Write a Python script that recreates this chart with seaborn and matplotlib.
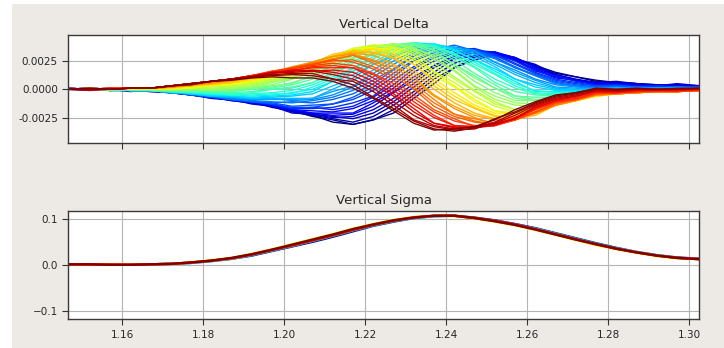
import matplotlib
matplotlib.use("Agg")
import matplotlib.pyplot as plt
import numpy as np
import pandas as pd
import seaborn as sns
from matplotlib.patches import Rectangle
from matplotlib.ticker import FuncFormatter

sns.set_style("ticks")
plt.rcParams['font.family'] = ['DejaVu Sans']

# ---------------- data ----------------
x_pos = [1.146, 1.152, 1.157, 1.162, 1.167, 1.172, 1.177, 1.182, 1.187, 1.192,
         1.197, 1.202, 1.207, 1.212, 1.217, 1.222, 1.227, 1.232, 1.237, 1.242,
         1.247, 1.252, 1.257, 1.262, 1.267, 1.272, 1.277, 1.282, 1.287, 1.292,
         1.297, 1.303]

x_ticks = [1.16, 1.18, 1.20, 1.22, 1.24, 1.26, 1.28, 1.30]
x_tick_labels = ['1.16', '1.18', '1.20', '1.22', '1.24', '1.26', '1.28', '1.30']
delta_ticks = [-0.0025, 0.0, 0.0025]
sigma_ticks = [-0.1, 0.0, 0.1]

# Vertical Delta curves (units of 1e-4), drawn in this order (blue -> dark red)
C00 = [1, 0, -1, 0, -1, -2, -3, -6, -8, -11, -15, -20, -23, -29, -31, -27, -21, -8, 5, 19, 26, 30, 26, 21, 15, 11, 8, 6, 5, 3, 4, 3]
C01 = [0, 1, -1, 0, -1, -1, -4, -6, -9, -11, -16, -19, -24, -27, -31, -27, -18, -5, 9, 19, 28, 32, 28, 20, 14, 11, 7, 6, 5, 4, 3, 3]
C02 = [0, 1, 0, -1, 0, -2, -4, -7, -9, -12, -14, -18, -23, -26, -29, -24, -14, -2, 12, 23, 28, 31, 27, 22, 13, 9, 6, 7, 5, 4, 3, 3]
C03 = [1, 0, 0, -1, -1, -2, -4, -8, -9, -13, -15, -19, -22, -24, -26, -21, -11, 2, 15, 27, 30, 31, 28, 20, 13, 8, 6, 6, 5, 3, 4, 2]
C04 = [0, 0, 1, -1, -1, -2, -5, -7, -10, -12, -15, -21, -22, -25, -24, -18, -8, 5, 19, 27, 29, 32, 27, 21, 12, 8, 6, 5, 4, 3, 5, 3]
C05 = [0, 1, 0, -2, -1, -3, -5, -7, -10, -12, -14, -19, -21, -23, -22, -15, -3, 8, 21, 29, 32, 33, 28, 19, 12, 8, 5, 6, 4, 2, 4, 2]
C06 = [1, 0, 0, -1, -2, -3, -5, -8, -9, -12, -15, -18, -21, -21, -21, -12, -2, 11, 21, 30, 34, 32, 26, 18, 11, 8, 5, 5, 4, 2, 3, 2]
C07 = [0, 0, -1, -1, -2, -3, -5, -7, -9, -10, -14, -18, -19, -20, -17, -10, 1, 15, 25, 32, 34, 33, 26, 17, 10, 8, 4, 5, 3, 3, 2, 2]
C08 = [0, -1, 0, -1, -1, -3, -4, -7, -9, -11, -14, -17, -16, -18, -15, -7, 4, 18, 28, 33, 34, 31, 25, 16, 12, 7, 4, 4, 3, 3, 2, 2]
C09 = [1, 0, -1, -1, -1, -3, -4, -7, -9, -11, -13, -17, -17, -16, -12, -6, 8, 20, 30, 35, 36, 31, 23, 15, 9, 6, 3, 4, 2, 3, 2, 1]
C10 = [0, 0, -1, -1, -1, -2, -5, -7, -7, -11, -13, -16, -16, -13, -9, -1, 11, 25, 32, 36, 35, 30, 22, 14, 8, 5, 3, 3, 2, 2, 2, 2]
C11 = [0, 0, -1, 0, -1, -2, -5, -7, -9, -11, -12, -15, -14, -13, -7, 2, 14, 26, 33, 37, 35, 29, 19, 13, 7, 4, 2, 3, 2, 1, 2, 2]
C12 = [1, 0, 0, 0, -1, -3, -5, -6, -9, -11, -12, -11, -12, -9, -4, 5, 17, 29, 35, 39, 34, 28, 20, 12, 6, 3, 2, 2, 2, 1, 2, 1]
C13 = [1, 0, 0, -1, -1, -3, -4, -6, -9, -10, -11, -12, -10, -7, -1, 8, 18, 30, 37, 37, 33, 27, 19, 12, 5, 3, 1, 2, 1, 1, 2, 1]
C14 = [0, 0, 0, -1, -1, -3, -4, -6, -8, -9, -8, -10, -9, -5, 2, 11, 22, 32, 38, 37, 33, 24, 17, 9, 4, 2, 1, 1, 1, 1, 1, 1]
C15 = [0, 1, 0, -1, -1, -3, -4, -6, -7, -9, -9, -9, -8, -2, 3, 14, 25, 34, 39, 37, 34, 24, 15, 8, 2, 1, 0, 1, 1, 1, 1, 1]
C16 = [0, 0, -1, -1, -1, -3, -4, -6, -7, -8, -8, -8, -8, 0, 8, 17, 28, 36, 37, 37, 31, 22, 13, 6, 1, 0, 0, 1, 0, 1, 1, 1]
C17 = [0, 0, -1, -1, -1, -2, -4, -6, -6, -8, -7, -6, -4, 3, 10, 22, 29, 37, 40, 36, 29, 20, 9, 4, 0, -1, 0, 1, 0, 0, 1, 0]
C18 = [0, 1, 0, -1, -1, -2, -4, -5, -6, -7, -6, -5, -2, 7, 13, 22, 31, 38, 40, 35, 26, 18, 9, 2, -1, -1, -1, 0, 0, 0, 0, 0]
C19 = [0, 0, 1, -1, -1, -2, -3, -5, -5, -6, -5, -3, 0, 7, 16, 24, 33, 41, 40, 34, 26, 16, 7, -2, -2, -2, -1, -1, 0, 0, 1, 0]
C20 = [0, 0, 0, -1, -1, -2, -3, -4, -5, -5, -4, -4, 2, 9, 18, 27, 35, 40, 39, 31, 24, 14, 5, -1, -3, -3, -2, -1, -1, 0, 0, 0]
C21 = [0, 0, 0, -1, -1, -2, -3, -3, -5, -4, -3, -1, 4, 11, 19, 29, 37, 40, 38, 32, 22, 13, 3, -3, -4, -4, -2, -2, -1, 0, 0, -1]
C22 = [0, 0, 1, -1, -1, -2, -2, -3, -4, -3, 0, 1, 6, 13, 23, 31, 36, 41, 38, 30, 20, 9, 1, -4, -5, -5, -3, -2, -2, 0, 0, 0]
C23 = [0, 0, 0, -1, -1, -2, -2, -3, -3, -2, 0, 2, 6, 15, 25, 32, 39, 41, 37, 28, 19, 6, -2, -5, -6, -6, -3, -2, -2, -1, 0, -1]
C24 = [0, 0, 0, -1, -1, -1, -2, -2, -2, 0, 1, 4, 9, 17, 27, 36, 39, 41, 35, 26, 14, 4, -6, -7, -7, -6, -4, -2, -2, -1, -1, -1]
C25 = [0, 1, 0, 0, -1, -1, -2, -1, -2, 1, 2, 6, 11, 21, 28, 36, 39, 40, 34, 22, 12, 1, -6, -9, -8, -6, -4, -3, -2, -1, -1, -1]
C26 = [0, 0, 0, 0, 0, -1, -1, -1, -1, 1, 3, 5, 13, 21, 30, 37, 40, 39, 32, 22, 10, 1, -8, -10, -9, -7, -4, -3, -3, -1, -1, -1]
C27 = [0, 0, -1, 0, 0, -1, 0, -1, 0, 2, 4, 9, 15, 23, 31, 37, 40, 36, 30, 20, 7, -3, -10, -10, -10, -7, -5, -3, -3, -2, -1, -1]
C28 = [0, 0, 0, 0, 0, 0, 0, 0, 1, 2, 6, 10, 17, 24, 35, 38, 40, 37, 28, 17, 3, -6, -12, -13, -11, -8, -5, -4, -3, -2, -2, -1]
C29 = [0, 0, 0, 1, 0, 0, 1, 0, 2, 3, 7, 11, 16, 25, 34, 38, 40, 35, 26, 16, 2, -9, -14, -15, -11, -9, -5, -4, -3, -2, -2, -1]
C30 = [0, 0, 0, 0, 0, 0, 1, 1, 2, 4, 8, 12, 18, 26, 35, 39, 37, 34, 23, 11, -1, -11, -18, -16, -12, -9, -5, -4, -3, -2, -2, -1]
C31 = [0, 0, 0, 0, 1, 0, 1, 2, 3, 5, 9, 13, 20, 29, 36, 39, 38, 32, 20, 9, -2, -13, -18, -17, -13, -9, -6, -4, -3, -2, -1, -1]
C32 = [0, 0, 0, 0, 0, 0, 1, 3, 4, 6, 10, 16, 21, 28, 36, 39, 37, 30, 16, 6, -6, -15, -20, -18, -13, -10, -6, -4, -3, -2, -2, -1]
C33 = [0, 0, 0, 0, 0, 1, 1, 4, 4, 7, 11, 15, 22, 28, 36, 36, 36, 27, 15, 3, -9, -19, -21, -19, -13, -10, -6, -4, -3, -2, -2, -1]
C34 = [0, 0, 0, 0, 0, 1, 2, 4, 5, 8, 12, 16, 24, 29, 36, 37, 34, 25, 12, 2, -11, -19, -22, -19, -14, -10, -6, -4, -3, -2, -2, -1]
C35 = [0, 0, 0, 0, 1, 1, 3, 4, 6, 8, 13, 16, 23, 29, 33, 36, 32, 22, 9, -3, -14, -21, -21, -19, -14, -10, -6, -4, -3, -2, -1, -1]
C36 = [0, 0, 0, 1, 1, 1, 3, 4, 6, 9, 11, 17, 23, 29, 34, 35, 30, 22, 6, -6, -16, -23, -24, -20, -14, -10, -6, -4, -3, -2, -2, -1]
C37 = [0, 0, 0, 1, 1, 2, 3, 5, 6, 10, 13, 18, 23, 31, 34, 33, 28, 17, 3, -9, -17, -24, -25, -21, -14, -10, -5, -4, -3, -2, -2, -1]
C38 = [0, 0, 0, 1, 1, 2, 3, 5, 7, 10, 14, 18, 24, 29, 33, 32, 27, 14, 0, -12, -21, -26, -26, -23, -14, -10, -5, -4, -3, -2, -2, -1]
C39 = [0, 0, 0, 1, 1, 2, 4, 5, 8, 10, 15, 20, 24, 29, 32, 30, 22, 11, -5, -15, -23, -27, -27, -21, -14, -10, -5, -4, -3, -2, -2, -1]
C40 = [0, 0, 0, 1, 1, 2, 4, 6, 8, 11, 15, 19, 24, 29, 31, 26, 20, 8, -6, -17, -25, -31, -27, -21, -14, -10, -5, -4, -3, -2, -2, -1]
C41 = [0, 0, 1, 1, 1, 2, 4, 7, 8, 12, 15, 19, 22, 27, 30, 25, 17, 5, -9, -22, -26, -30, -27, -21, -14, -9, -5, -4, -3, -2, -2, -1]
C42 = [0, 1, 0, 1, 1, 2, 4, 7, 9, 12, 15, 19, 23, 26, 30, 23, 14, 2, -12, -22, -28, -31, -25, -21, -13, -9, -4, -4, -3, -2, -2, -1]
C43 = [0, 1, 0, 1, 1, 3, 4, 7, 9, 12, 14, 19, 22, 25, 26, 20, 11, 0, -15, -24, -29, -31, -27, -20, -12, -9, -4, -3, -2, -2, -2, -1]
C44 = [0, 0, 0, 1, 1, 3, 5, 7, 9, 12, 16, 19, 22, 26, 24, 18, 8, -5, -18, -26, -33, -32, -27, -20, -12, -9, -4, -3, -2, -2, -2, -1]
C45 = [1, 0, 0, 1, 1, 3, 5, 7, 9, 12, 16, 18, 21, 23, 21, 14, 5, -8, -20, -28, -32, -32, -27, -17, -11, -9, -3, -3, -2, -1, -2, 0]
C46 = [1, 0, 1, 1, 1, 3, 5, 7, 9, 12, 15, 16, 20, 21, 19, 13, 2, -11, -23, -32, -33, -32, -26, -18, -11, -8, -3, -3, -2, -1, -1, 0]
C47 = [0, 0, 1, 1, 1, 3, 5, 7, 9, 12, 15, 17, 19, 19, 19, 10, -1, -14, -25, -32, -33, -30, -26, -17, -10, -7, -2, -3, -1, -1, -1, 0]
C48 = [0, 0, 0, 1, 1, 3, 5, 7, 9, 12, 14, 17, 16, 17, 15, 7, -4, -17, -30, -33, -34, -32, -25, -16, -10, -6, -2, -2, -1, -1, -1, 0]
C49 = [0, 0, 0, 1, 1, 3, 5, 7, 9, 11, 14, 16, 17, 15, 12, 4, -6, -20, -30, -34, -34, -31, -26, -15, -9, -6, -1, -2, 0, -1, 0, 0]
C50 = [0, -1, 0, 1, 1, 3, 5, 7, 9, 11, 15, 15, 16, 13, 9, 1, -11, -23, -32, -35, -33, -30, -23, -14, -8, -5, -1, -1, 0, 0, 0, 0]
C51 = [0, 0, 0, 1, 1, 3, 5, 7, 9, 11, 13, 14, 14, 9, 7, -2, -14, -27, -33, -36, -35, -29, -21, -13, -7, -4, 0, -1, 0, 0, 0, 1]
C52 = [0, 0, 0, 1, 1, 3, 5, 7, 9, 11, 12, 13, 12, 9, 4, -7, -17, -28, -35, -37, -34, -26, -20, -12, -6, -3, 0, 0, 0, 0, 0, 1]
C53 = [0, 1, 0, 1, 1, 3, 4, 7, 8, 10, 11, 10, 10, 7, 1, -8, -19, -30, -36, -35, -33, -27, -18, -11, -5, -3, 1, 0, 1, 0, 1, 1]

# Vertical Sigma curves (units of 1e-3)
S0 = [0, 1, 0, 0, 1, 2, 4, 8, 13, 20, 30, 40, 50, 61, 73, 85, 94, 102, 106, 107, 103, 97, 89, 80, 69, 58, 47, 37, 28, 21, 16, 13]
S1 = [1, 1, 0, 0, 1, 2, 4, 8, 13, 21, 31, 41, 52, 63, 75, 86, 95, 102, 106, 107, 102, 96, 88, 79, 68, 57, 46, 36, 28, 21, 15, 12]
S2 = [1, 1, 1, 0, 1, 2, 5, 10, 15, 24, 34, 45, 56, 67, 79, 89, 98, 104, 107, 106, 101, 94, 86, 76, 65, 54, 43, 34, 26, 19, 14, 12]
S3 = [1, 0, 1, 0, 1, 2, 5, 9, 14, 23, 33, 43, 54, 65, 77, 88, 97, 104, 107, 107, 102, 95, 87, 77, 66, 55, 44, 35, 27, 20, 15, 12]
S4 = [1, 1, 0, 0, 1, 2, 5, 9, 14, 22, 32, 42, 53, 64, 76, 87, 96, 103, 107, 107, 102, 96, 88, 78, 67, 56, 45, 35, 27, 20, 15, 12]
S5 = [1, 1, 0, 0, 1, 2, 5, 9, 15, 23, 33, 44, 55, 66, 78, 88, 97, 103, 107, 107, 102, 95, 87, 77, 66, 55, 45, 35, 27, 20, 15, 12]

delta_curves = [C00, C01, C02, C03, C04, C05, C06, C07, C08, C09,
                C10, C11, C12, C13, C14, C15, C16, C17, C18, C19,
                C20, C21, C22, C23, C24, C25, C26, C27, C28, C29,
                C30, C31, C32, C33, C34, C35, C36, C37, C38, C39,
                C40, C41, C42, C43, C44, C45, C46, C47, C48, C49,
                C50, C51, C52, C53]
sigma_curves = [S0, S1, S2, S3, S4, S5]
sigma_color_pos = [0.0, 0.35, 0.65, 0.8, 0.9, 1.0]

# ---------------- frames ----------------
d_rows = []
for k, arr in enumerate(delta_curves):
    for xv, yv in zip(x_pos, arr):
        d_rows.append((xv, yv * 1e-4, f"d{k:02d}"))
df_delta = pd.DataFrame(d_rows, columns=["x", "y", "curve"])
n_d = len(delta_curves)
d_names = [f"d{k:02d}" for k in range(n_d)]
d_pal = {name: plt.cm.jet(k / (n_d - 1)) for k, name in enumerate(d_names)}

s_rows = []
for k, arr in enumerate(sigma_curves):
    for xv, yv in zip(x_pos, arr):
        s_rows.append((xv, yv * 1e-3, f"s{k}"))
df_sigma = pd.DataFrame(s_rows, columns=["x", "y", "curve"])
s_names = [f"s{k}" for k in range(len(sigma_curves))]
s_pal = {name: plt.cm.jet(p) for name, p in zip(s_names, sigma_color_pos)}

# ---------------- figure ----------------
W, H = 724, 348
fig = plt.figure(figsize=(W / 100, H / 100), dpi=100, facecolor="white")
fig.add_artist(Rectangle((12 / W, 0), 1 - 12 / W, 344 / H, transform=fig.transFigure,
                         facecolor="#EDEAE6", edgecolor="none", zorder=-10))

L, R = 68.3, 699.3
ax1 = fig.add_axes([L / W, (H - 143.3) / H, (R - L) / W, (143.3 - 34.7) / H])
ax2 = fig.add_axes([L / W, (H - 319.3) / H, (R - L) / W, (319.3 - 210.7) / H])

sns.lineplot(data=df_delta, x="x", y="y", hue="curve", hue_order=d_names, palette=d_pal,
             estimator=None, sort=False, legend=False, lw=1.0, ax=ax1)
sns.lineplot(data=df_sigma, x="x", y="y", hue="curve", hue_order=s_names, palette=s_pal,
             estimator=None, sort=False, legend=False, lw=1.7, ax=ax2)

text_col = "#262626"
for ax in (ax1, ax2):
    ax.set_facecolor("white")
    ax.set_xlim(1.1467, 1.3025)
    ax.set_xticks(x_ticks)
    ax.set_xlabel("")
    ax.set_ylabel("")
    ax.grid(True, color="#b4b4b4", lw=0.8)
    ax.set_axisbelow(True)
    ax.tick_params(labelsize=7.5, length=4, width=0.8, colors="#333333", labelcolor=text_col)
    for sp in ax.spines.values():
        sp.set_color("#3a3a3a")
        sp.set_linewidth(1.0)

ax1.set_ylim(-0.00477, 0.00482)
ax1.set_yticks(delta_ticks)
ax1.yaxis.set_major_formatter(FuncFormatter(lambda v, p: "%.4f" % v))
ax1.set_xticklabels([])
ax1.set_title("Vertical Delta", fontsize=9.5, color=text_col, pad=5)

ax2.set_ylim(-0.119, 0.118)
ax2.set_yticks(sigma_ticks)
ax2.set_xticklabels(x_tick_labels)
ax2.set_title("Vertical Sigma", fontsize=9.5, color=text_col, pad=5)

fig.savefig("out.png", dpi=100, facecolor=fig.get_facecolor())
